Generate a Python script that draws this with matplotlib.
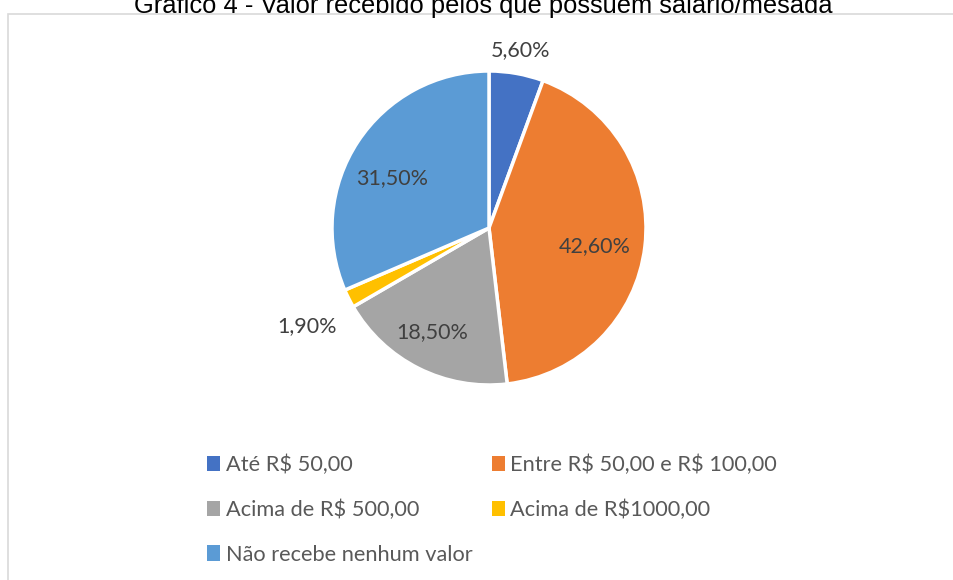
import matplotlib
matplotlib.use("Agg")
import matplotlib.pyplot as plt
from matplotlib.patches import Rectangle
import numpy as np

plt.rcParams["text.parse_math"] = False

categories = ["Até R$ 50,00", "Entre R$ 50,00 e R$ 100,00", "Acima de R$ 500,00",
              "Acima de R$1000,00", "Não recebe nenhum valor"]
values = [5.6, 42.6, 18.5, 1.9, 31.5]
value_labels = ["5,60%", "42,60%", "18,50%", "1,90%", "31,50%"]
colors = ["#4472C4", "#ED7D31", "#A5A5A5", "#FFC000", "#5B9BD5"]
title = "Gráfico 4 - Valor recebido pelos que possuem salário/mesada"

W, H = 954, 580
fig = plt.figure(figsize=(W / 100, H / 100), dpi=100)

# border
fig.patches.append(Rectangle((8 / W, -0.1), 1.2, (H - 14) / H + 0.1, transform=fig.transFigure,
                             fill=False, edgecolor="#D9D9D9", linewidth=1.2))

fig.text(483 / W, 1 - 13 / H, title, ha="center", va="baseline",
         fontsize=18.4, family="Liberation Sans", color="black")

cx, cy, r = 489, 228, 157
ax = fig.add_axes([(cx - r) / W, (H - cy - r) / H, 2 * r / W, 2 * r / H])
wedges, _ = ax.pie(values, colors=colors, startangle=90, counterclock=False,
                   radius=1, wedgeprops=dict(edgecolor="white", linewidth=2.5))
ax.set_xlim(-1, 1)
ax.set_ylim(-1, 1)
ax.set_aspect("auto")
ax.axis("off")

# label placement (radial distance, angular tweak in degrees)
dist = [1.15, 0.685, 0.755, 1.32, 0.695]
dtheta = [0, -2.8, -1.9, 1.7, 6.4]
total = sum(values)
start = 90.0
for v, lab, d, dt in zip(values, value_labels, dist, dtheta):
    mid = start - v / total * 360 / 2
    start -= v / total * 360
    ang = np.deg2rad(mid + dt)
    ax.text(d * np.cos(ang), d * np.sin(ang), lab, ha="center", va="center",
            fontsize=15.5, family="Lato", color="#404040")

order = [0, 2, 4, 1, 3]
leg = fig.legend([wedges[i] for i in order], [categories[i] for i in order], ncol=2,
                 loc="upper left", bbox_to_anchor=(207 / W, 1 - 455 / H), frameon=False,
                 prop=dict(family="Lato", size=15.7), labelcolor="#595959",
                 handlelength=0.6, handleheight=0.7, handletextpad=0.25,
                 labelspacing=1.12, columnspacing=0.9, borderpad=0, borderaxespad=0)
for h in leg.legend_handles:
    h.set_linewidth(0)

fig.savefig("out.png", dpi=100)
